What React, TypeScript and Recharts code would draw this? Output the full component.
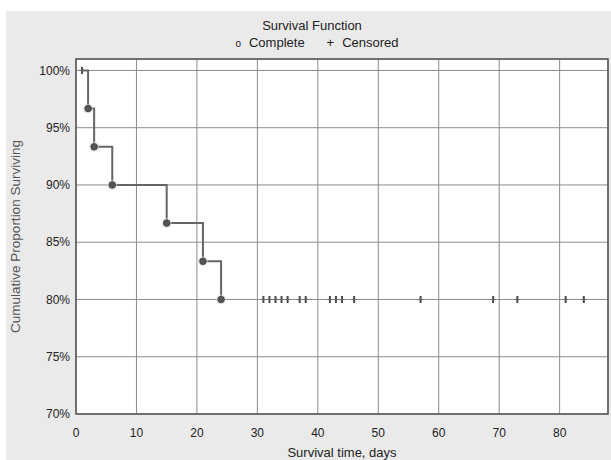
import React from 'react';
import {
  ComposedChart,
  Line,
  Scatter,
  XAxis,
  YAxis,
  CartesianGrid,
  ReferenceArea,
} from 'recharts';

// Kaplan-Meier estimate
const completeTimes = [2, 3, 6, 15, 21, 24];
const completeSurvival = [96.67, 93.33, 90, 86.67, 83.33, 80];

const censoredTimes = [1, 31, 32, 33, 34, 35, 37, 38, 42, 43, 44, 46, 57, 69, 73, 81, 84];
const censoredSurvival = [100, 80, 80, 80, 80, 80, 80, 80, 80, 80, 80, 80, 80, 80, 80, 80, 80];

// step line runs from the first censored case to the last event
const stepTimes = [1, 2, 3, 6, 15, 21, 24];
const stepSurvival = [100, 96.67, 93.33, 90, 86.67, 83.33, 80];

const xTicks = [0, 10, 20, 30, 40, 50, 60, 70, 80];
const yTicks = [70, 75, 80, 85, 90, 95, 100];

const stepData = stepTimes.map((t, i) => ({ t, s: stepSurvival[i] }));
const completeData = completeTimes.map((t, i) => ({ t, s: completeSurvival[i] }));
const censoredData = censoredTimes.map((t, i) => ({ t, s: censoredSurvival[i] }));

const FONT = '"Liberation Sans", Arial, sans-serif';
const INK = '#555';

const CompleteDot = (props: any) => {
  const { cx, cy } = props;
  return (
    <g>
      <circle cx={cx} cy={cy} r={5} fill="#d8d8d8" opacity={0.6} />
      <circle cx={cx} cy={cy} r={3.3} fill={INK} stroke="#3e3e3e" strokeWidth={0.8} />
    </g>
  );
};

const CensoredMark = (props: any) => {
  const { cx, cy } = props;
  return (
    <g>
      <line x1={cx} y1={cy - 3.5} x2={cx} y2={cy + 3.5} stroke="#4a4a4a" strokeWidth={2} />
      <line x1={cx - 2.5} y1={cy} x2={cx + 2.5} y2={cy} stroke="#666" strokeWidth={1} />
    </g>
  );
};

const App: React.FC = () => {
  return (
    <div
      style={{
        position: 'absolute',
        left: 0,
        top: 0,
        width: 611,
        height: 460,
        background: '#fff',
        fontFamily: FONT,
      }}
    >
      {/* gray panel behind the chart */}
      <div
        style={{
          position: 'absolute',
          left: 6,
          top: 11,
          width: 605,
          height: 449,
          background: '#eaeaea',
        }}
      />
      <div
        style={{
          position: 'absolute',
          left: 0,
          top: 18,
          width: 624,
          textAlign: 'center',
          fontSize: 13,
          color: '#222',
        }}
      >
        Survival Function
      </div>
      <div
        style={{
          position: 'absolute',
          left: 0,
          top: 35,
          width: 634,
          textAlign: 'center',
          fontSize: 13,
          color: '#222',
        }}
      >
        <span style={{ fontSize: 10, marginRight: 8 }}>o</span>
        Complete
        <span style={{ marginLeft: 22, marginRight: 8 }}>+</span>
        Censored
      </div>
      <div style={{ position: 'absolute', left: 0, top: 0 }}>
        <ComposedChart
          width={611}
          height={460}
          margin={{ top: 59, right: 3, bottom: 0, left: 0 }}
        >
          <CartesianGrid stroke="#8c8c8c" strokeWidth={1} fill="#fff" fillOpacity={1} />
          <XAxis
            type="number"
            dataKey="t"
            domain={[0, 88]}
            ticks={xTicks}
            allowDataOverflow
            height={46}
            tickSize={0}
            tickMargin={14}
            axisLine={false}
            tick={{ fontSize: 12, fill: '#222', fontFamily: FONT }}
            label={{
              value: 'Survival time, days',
              position: 'insideBottom',
              offset: 3,
              style: { fontSize: 13, fill: '#222', fontFamily: FONT },
            }}
          />
          <YAxis
            type="number"
            dataKey="s"
            domain={[70, 101]}
            ticks={yTicks}
            allowDataOverflow
            width={76}
            tickSize={0}
            tickMargin={6}
            axisLine={false}
            tickFormatter={(v: number) => `${v}%`}
            tick={{ fontSize: 12, fill: '#222', fontFamily: FONT }}
            label={{
              value: 'Cumulative Proportion Surviving',
              angle: -90,
              position: 'insideLeft',
              offset: 15,
              style: { fontSize: 13.5, fill: '#555', fontFamily: FONT, textAnchor: 'middle' },
            }}
          />
          <ReferenceArea
            x1={0}
            x2={88}
            y1={70}
            y2={101}
            fill="none"
            stroke="#555"
            strokeWidth={1.5}
            ifOverflow="visible"
          />
          <Line
            data={stepData}
            dataKey="s"
            type="stepAfter"
            stroke="#666"
            strokeWidth={2}
            dot={false}
            activeDot={false}
            isAnimationActive={false}
          />
          <Scatter
            data={completeData}
            dataKey="s"
            shape={CompleteDot}
            isAnimationActive={false}
          />
          <Scatter
            data={censoredData}
            dataKey="s"
            shape={CensoredMark}
            isAnimationActive={false}
          />
        </ComposedChart>
      </div>
    </div>
  );
};

export default App;
